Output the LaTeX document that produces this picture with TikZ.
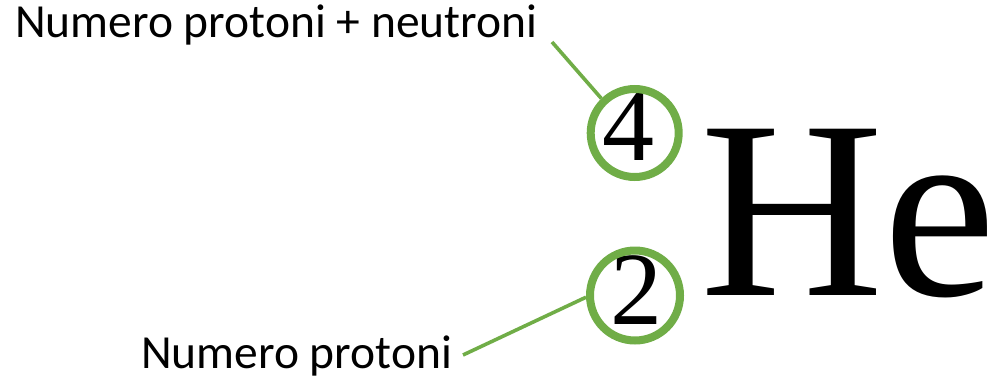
\documentclass[tikz,border=0pt]{standalone}
\usepackage{fontspec}
\setmainfont{Liberation Serif}
\newfontfamily\labelfont{Carlito}
\definecolor{ringgreen}{HTML}{70AD47}
\tikzset{
  x=1pt, y=-1pt,
  caption/.style={font=\labelfont\fontsize{47.5}{52}\selectfont, inner sep=0pt, anchor=base west},
  digit/.style={font=\fontsize{104}{104}\selectfont, inner sep=0pt, anchor=base},
  ring/.style={circle, draw=ringgreen, line width=8pt, minimum size=88pt, inner sep=0pt},
  leader/.style={draw=ringgreen, line width=3.6pt}
}
\begin{document}
\begin{tikzpicture}
\useasboundingbox (0,0) rectangle (999,381);
% element symbol
\node[font=\fontsize{254}{254}\selectfont, inner sep=0pt, anchor=base west] (sym) at (700,295) {He};
% mass number and atomic number
\node[digit] (mass) at (628.5,160) {4};
\node[digit] (atomic) at (636.5,324) {2};
% rings round the numbers
\node[ring] (c4) at (634.7,133) {};
\node[ring, minimum size=90pt] (c2) at (635,295.5) {};
% captions
\node[caption] (tmass) at (15,37) {Numero protoni + neutroni};
\node[caption] (tatomic) at (141,368) {Numero protoni};
% leader lines
\coordinate (p4) at (552,42);
\coordinate (p2) at (463,355);
\draw[leader] (p4) -- (c4.134);
\draw[leader] (p2) -- (c2.182);
\end{tikzpicture}
\end{document}
